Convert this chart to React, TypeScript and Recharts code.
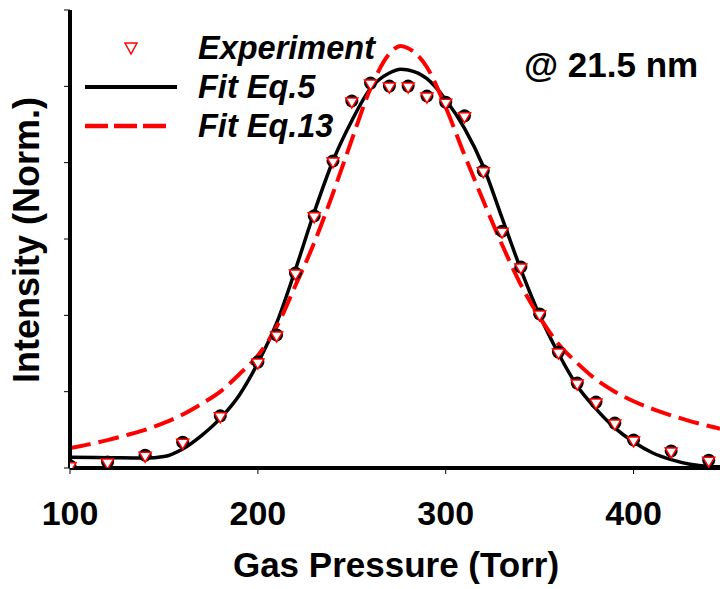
import React from "react";
import {
  ComposedChart,
  Line,
  Scatter,
  XAxis,
  YAxis,
} from "recharts";

// measured points
const expPressure = [100, 120, 140, 160, 180, 200, 210, 220, 230, 240, 250, 260, 270, 280, 290, 300, 310, 320, 330, 340, 350, 360, 370, 380, 390, 400, 420, 440];
const expIntensity = [0.003, 0.013, 0.031, 0.065, 0.134, 0.275, 0.346, 0.508, 0.658, 0.802, 0.959, 1.006, 0.998, 0.998, 0.972, 0.956, 0.92, 0.776, 0.618, 0.524, 0.401, 0.301, 0.22, 0.17, 0.115, 0.071, 0.042, 0.018];

// Fit Eq.5 (solid black)
const eq5Pressure = [100, 120, 140, 150, 160, 170, 180, 190, 200, 210, 220, 230, 240, 250, 260, 270, 276, 280, 290, 300, 310, 320, 330, 340, 350, 360, 370, 380, 390, 400, 410, 420, 430, 440, 446];
const eq5Intensity = [0.028, 0.027, 0.026, 0.03, 0.05, 0.085, 0.13, 0.19, 0.275, 0.38, 0.52, 0.67, 0.805, 0.91, 0.995, 1.035, 1.045, 1.043, 1.02, 0.965, 0.89, 0.79, 0.655, 0.52, 0.4, 0.3, 0.215, 0.155, 0.105, 0.068, 0.04, 0.022, 0.01, 0.004, 0.003];

// Fit Eq.13 (dashed red)
const eq13Pressure = [100, 110, 120, 130, 140, 150, 160, 170, 180, 190, 200, 210, 220, 230, 240, 250, 260, 270, 276, 280, 290, 300, 310, 320, 330, 340, 350, 360, 370, 380, 390, 400, 410, 420, 430, 440, 446];
const eq13Intensity = [0.052, 0.062, 0.073, 0.086, 0.1, 0.118, 0.14, 0.168, 0.2, 0.245, 0.295, 0.37, 0.478, 0.59, 0.72, 0.86, 0.995, 1.085, 1.106, 1.1, 1.05, 0.945, 0.82, 0.7, 0.585, 0.48, 0.395, 0.325, 0.275, 0.232, 0.2, 0.175, 0.155, 0.138, 0.123, 0.11, 0.103];

const xTicks = [100, 200, 300, 400];
const yTicks = [0, 0.2, 0.4, 0.6, 0.8, 1.0, 1.2];

const toRows = (xs: number[], ys: number[]) => xs.map((p, i) => ({ p, v: ys[i] }));

const expData = toRows(expPressure, expIntensity);
const eq5Data = toRows(eq5Pressure, eq5Intensity);
const eq13Data = toRows(eq13Pressure, eq13Intensity);

const FONT = "'Liberation Sans', Arial, sans-serif";

// black dot behind a white down-triangle with red rim
const Marker = (props: any) => {
  const { cx, cy } = props;
  if (cx == null || cy == null) return null;
  return (
    <g>
      <circle cx={cx} cy={cy - 1} r={6.5} fill="#000" />
      <polygon
        points={`${cx - 6},${cy - 4} ${cx + 6},${cy - 4} ${cx},${cy + 6}`}
        fill="#fff"
        stroke="#ff0000"
        strokeWidth={1.5}
      />
    </g>
  );
};

const XTick = (props: any) => {
  const { x, y, payload } = props;
  return (
    <text
      x={x}
      y={y}
      dy={49}
      textAnchor="middle"
      fontFamily={FONT}
      fontWeight="bold"
      fontSize={34}
      fill="#000"
    >
      {payload.value}
    </text>
  );
};

export default function App() {
  return (
    <div style={{ position: "absolute", left: 0, top: 0, width: 720, height: 589, background: "#fff" }}>
      <ComposedChart
        width={720}
        height={589}
        margin={{ top: 10, right: 0, bottom: 0, left: 60 }}
      >
        <XAxis
          type="number"
          dataKey="p"
          domain={[100, 446]}
          ticks={xTicks}
          allowDataOverflow
          height={121}
          axisLine={{ stroke: "#000", strokeWidth: 4 }}
          tickLine={{ stroke: "#000", strokeWidth: 1 }}
          tickSize={6}
          tick={<XTick />}
        />
        <YAxis
          type="number"
          dataKey="v"
          domain={[0, 1.2]}
          ticks={yTicks}
          allowDataOverflow
          width={10}
          axisLine={{ stroke: "#000", strokeWidth: 4 }}
          tickLine={{ stroke: "#000", strokeWidth: 1 }}
          tickSize={6}
          tickFormatter={() => ""}
        />
        <Line
          data={eq5Data}
          dataKey="v"
          type="monotone"
          stroke="#000"
          strokeWidth={3.5}
          dot={false}
          activeDot={false}
          isAnimationActive={false}
        />
        <Line
          data={eq13Data}
          dataKey="v"
          type="monotone"
          stroke="#ff0000"
          strokeWidth={4}
          strokeDasharray="21 8"
          dot={false}
          activeDot={false}
          isAnimationActive={false}
        />
        <Scatter
          data={expData}
          dataKey="v"
          shape={<Marker />}
          isAnimationActive={false}
        />
      </ComposedChart>

      {/* titles, legend and annotation */}
      <svg
        width={720}
        height={589}
        style={{ position: "absolute", left: 0, top: 0, pointerEvents: "none" }}
        fontFamily={FONT}
        fontWeight="bold"
      >
        <text x={396} y={577} textAnchor="middle" fontSize={35} fill="#000">
          Gas Pressure (Torr)
        </text>
        <text
          transform="translate(39,240) rotate(-90)"
          textAnchor="middle"
          fontSize={36}
          fill="#000"
        >
          Intensity (Norm.)
        </text>

        <polygon points="125,43 137,43 131,54" fill="#fff" stroke="#ff0000" strokeWidth={1.5} />
        <text x={198} y={59} fontSize={32.5} fontStyle="italic" fill="#000">Experiment</text>
        <line x1={85} y1={87} x2={177} y2={87} stroke="#000" strokeWidth={4} />
        <text x={198} y={98} fontSize={32.5} fontStyle="italic" fill="#000">Fit Eq.5</text>
        <line x1={85} y1={126} x2={166} y2={126} stroke="#ff0000" strokeWidth={4.5} strokeDasharray="23 6" />
        <text x={198} y={137} fontSize={32.5} fontStyle="italic" fill="#000">Fit Eq.13</text>

        <text x={524} y={77} fontSize={35} fill="#000">@ 21.5 nm</text>
      </svg>
    </div>
  );
}
